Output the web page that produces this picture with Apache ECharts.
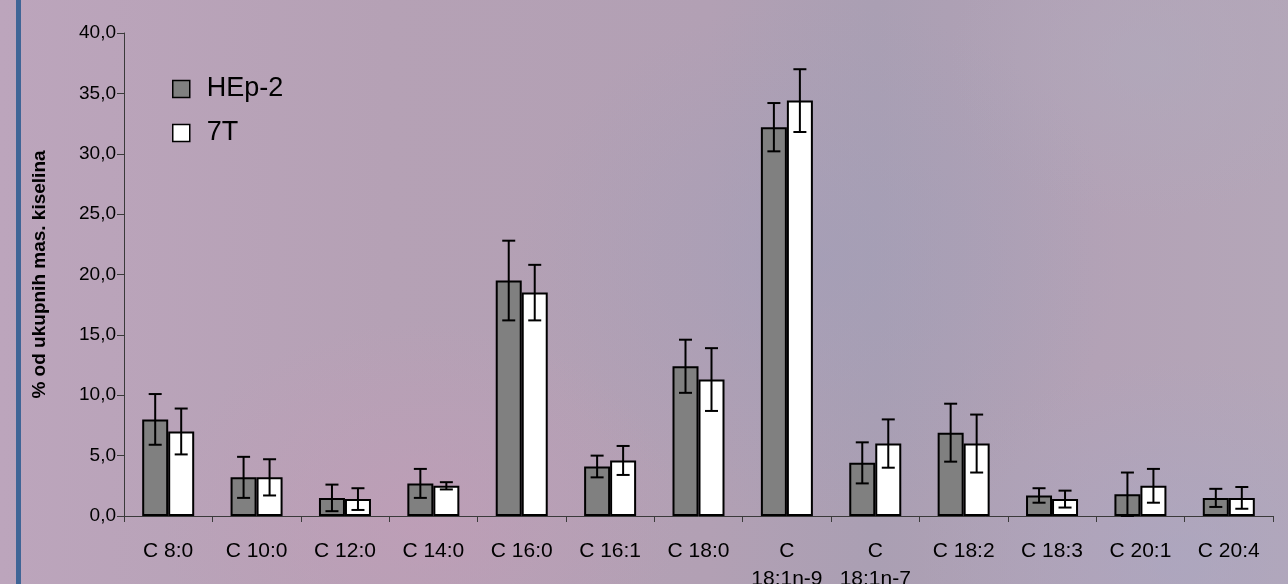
<!DOCTYPE html>
<html>
<head>
<meta charset="utf-8">
<script src="https://cdn.jsdelivr.net/npm/echarts@6/dist/echarts.min.js"></script>
<style>
  html, body { margin: 0; padding: 0; }
  body {
    width: 1288px; height: 584px; overflow: hidden;
    background:
      radial-gradient(ellipse 260px 200px at 420px 520px, rgba(196,156,184,0.55), rgba(196,156,184,0) 100%),
      radial-gradient(ellipse 300px 260px at 820px 260px, rgba(160,158,184,0.55), rgba(160,158,184,0) 100%),
      radial-gradient(ellipse 260px 200px at 1180px 560px, rgba(168,168,196,0.55), rgba(168,168,196,0) 100%),
      radial-gradient(ellipse 200px 160px at 1150px 60px, rgba(176,170,188,0.6), rgba(176,170,188,0) 100%),
      linear-gradient(90deg, #bca5bc 0%, #b5a1b5 30%, #b2a0b4 55%, #aa9fb3 68%, #b3a2b6 85%, #b4a6b8 100%);
  }
  #chart { width: 1288px; height: 584px; }
</style>
</head>
<body>
<div id="chart"></div>
<script>
// Fatty acid composition, % of total fatty acids (mean ± SD)
const categories = ['C 8:0', 'C 10:0', 'C 12:0', 'C 14:0', 'C 16:0', 'C 16:1', 'C 18:0',
                    'C\n18:1n-9', 'C\n18:1n-7', 'C 18:2', 'C 18:3', 'C 20:1', 'C 20:4'];
const seriesNames = ['HEp-2', '7T'];
const hep2 =    [8.0, 3.2, 1.5, 2.7, 19.5, 4.1, 12.4, 32.2, 4.4, 6.9, 1.7, 1.8, 1.5];
const hep2Err = [2.1, 1.7, 1.1, 1.2, 3.3, 0.9, 2.2, 2.0, 1.7, 2.4, 0.6, 1.8, 0.75];
const t7 =      [7.0, 3.2, 1.4, 2.5, 18.5, 4.6, 11.3, 34.4, 6.0, 6.0, 1.4, 2.5, 1.5];
const t7Err =   [1.9, 1.5, 0.9, 0.3, 2.3, 1.2, 2.6, 2.6, 2.0, 2.4, 0.7, 1.4, 0.9];
const yTicks = [0, 5, 10, 15, 20, 25, 30, 35, 40];

const FONT = '"Liberation Sans", Arial, sans-serif';
const BAR_W = 26;

// error bar drawn as a vertical whisker with caps, shifted onto its bar
function errorSeries(values, errs, shift) {
  return {
    type: 'custom',
    silent: true,
    z: 5,
    data: values.map((v, i) => [i, v - errs[i], v + errs[i]]),
    renderItem: function (params, api) {
      const lo = api.coord([api.value(0), api.value(1)]);
      const hi = api.coord([api.value(0), api.value(2)]);
      const x = lo[0] + shift;
      const cap = 6.5;
      const style = { stroke: '#000', lineWidth: 2 };
      return {
        type: 'group',
        children: [
          { type: 'line', shape: { x1: x, y1: lo[1], x2: x, y2: hi[1] }, style: style },
          { type: 'line', shape: { x1: x - cap, y1: hi[1], x2: x + cap, y2: hi[1] }, style: style },
          { type: 'line', shape: { x1: x - cap, y1: lo[1], x2: x + cap, y2: lo[1] }, style: style }
        ]
      };
    }
  };
}

const chart = echarts.init(document.getElementById('chart'), null, { renderer: 'canvas' });
chart.setOption({
  backgroundColor: 'transparent',
  animation: false,
  textStyle: { fontFamily: FONT },
  graphic: [{
    type: 'rect', left: 16, top: 0,
    shape: { width: 5, height: 584 },
    style: { fill: '#3f6596' }
  }],
  grid: { left: 124, right: 15, top: 33, bottom: 68, containLabel: false, outerBoundsMode: 'none' },
  legend: {
    orient: 'vertical',
    left: 167, top: 69,
    itemWidth: 17, itemHeight: 17,
    itemGap: 14,
    icon: 'rect',
    data: [
      { name: seriesNames[0], itemStyle: { color: '#808080', borderColor: '#000', borderWidth: 1.5 } },
      { name: seriesNames[1], itemStyle: { color: '#ffffff', borderColor: '#000', borderWidth: 1.5 } }
    ],
    textStyle: { fontFamily: FONT, fontSize: 27, color: '#000', lineHeight: 30, padding: [0, 0, 0, 12] }
  },
  xAxis: {
    type: 'category',
    data: categories,
    boundaryGap: true,
    axisLine: { lineStyle: { color: '#3a3a3a', width: 1 } },
    axisTick: { show: true, alignWithLabel: false, length: 6, inside: false, lineStyle: { color: '#3a3a3a' } },
    axisLabel: {
      interval: 0, margin: 21, color: '#000',
      fontFamily: FONT, fontSize: 21, lineHeight: 28
    }
  },
  yAxis: {
    type: 'value',
    min: yTicks[0], max: yTicks[yTicks.length - 1], interval: 5,
    name: '% od ukupnih mas. kiselina',
    nameLocation: 'middle',
    nameGap: 75,
    nameRotate: 90,
    nameTextStyle: { fontFamily: FONT, fontSize: 19, fontWeight: 'bold', color: '#000' },
    splitLine: { show: false },
    axisLine: { show: true, lineStyle: { color: '#3a3a3a', width: 1 } },
    axisTick: { show: true, length: 7, lineStyle: { color: '#3a3a3a' } },
    axisLabel: {
      margin: 8, color: '#000', fontFamily: FONT, fontSize: 19,
      formatter: v => v.toFixed(1).replace('.', ',')
    }
  },
  series: [
    {
      name: seriesNames[0], type: 'bar', data: hep2,
      barWidth: BAR_W, barGap: '0%',
      itemStyle: { color: '#808080', borderColor: '#000', borderWidth: 2 }
    },
    {
      name: seriesNames[1], type: 'bar', data: t7,
      barWidth: BAR_W, barGap: '0%',
      itemStyle: { color: '#ffffff', borderColor: '#000', borderWidth: 2 }
    },
    errorSeries(hep2, hep2Err, -BAR_W / 2),
    errorSeries(t7, t7Err, BAR_W / 2)
  ]
});
</script>
</body>
</html>
